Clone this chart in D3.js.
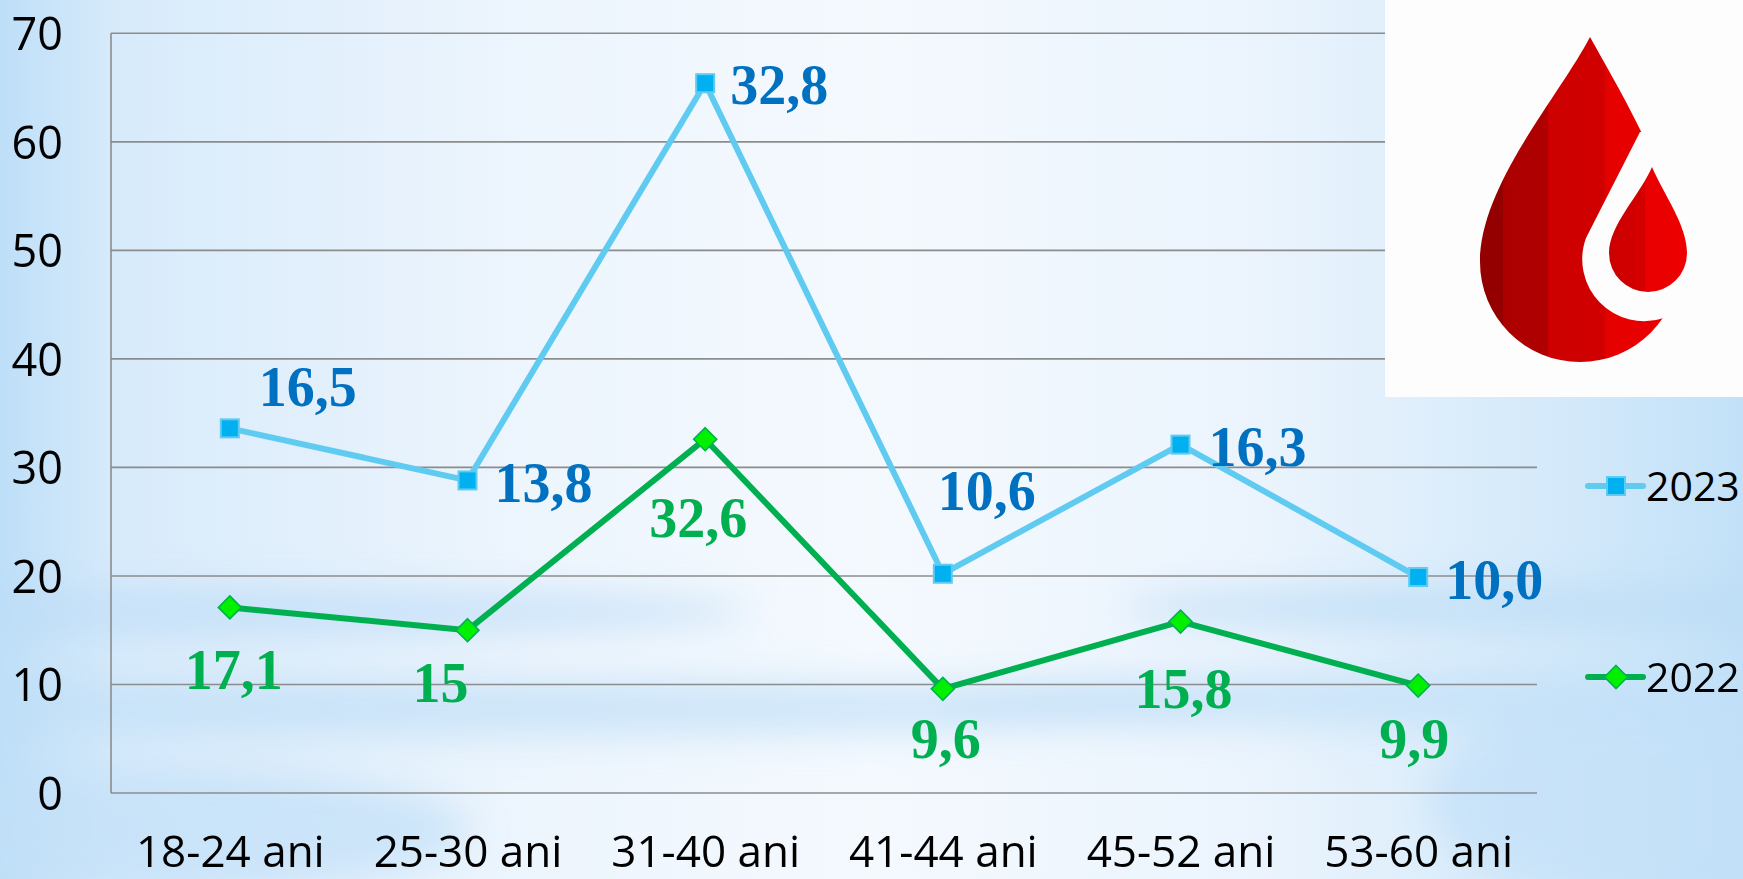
<!DOCTYPE html>
<html>
<head>
<meta charset="utf-8">
<script src="https://cdn.jsdelivr.net/npm/d3@7"></script>
<style>
  html, body { margin: 0; padding: 0; overflow: hidden; background: #eaf4fc; }
  svg { display: block; }
</style>
</head>
<body>
<svg id="chart" width="1743" height="879"></svg>
<script>
// ---------- data ----------
const categories = ["18-24 ani", "25-30 ani", "31-40 ani", "41-44 ani", "45-52 ani", "53-60 ani"];
const seriesNames = ["2022", "2023"];
const values2022 = [17.1, 15, 32.6, 9.6, 15.8, 9.9];
const values2023 = [16.5, 13.8, 32.8, 10.6, 16.3, 10.0];
const labels2022 = ["17,1", "15", "32,6", "9,6", "15,8", "9,9"];
const labels2023 = ["16,5", "13,8", "32,8", "10,6", "16,3", "10,0"];
const yTicks = [0, 10, 20, 30, 40, 50, 60, 70];

// ---------- style ----------
const W = 1743, H = 879;
const plot = { left: 111, right: 1537, top: 33.3, bottom: 793 };
const blueLine = "#5fcbf1", blueMarker = "#00b0f0", blueLabel = "#0070c0";
const greenLine = "#00b050", greenMarker = "#00f000", greenLabel = "#00b050";
const tickFont = "'Open Sans', sans-serif";
// label offsets relative to marker (dx, baseline dy)
const off2023 = [[29, -22], [27, 22], [25, 21], [-5, -64], [28, 21], [27, 22]];
const off2022 = [[4, 82], [-27, 72], [-7, 98], [3, 69], [3, 86], [-4, 72]];

const svg = d3.select("#chart");
const defs = svg.append("defs");

// ---------- background ----------
const bgH = defs.append("linearGradient").attr("id", "bgH").attr("x1", 0).attr("x2", 1).attr("y1", 0).attr("y2", 0);
[[0, "#bedff8"], [0.07, "#d8ebfb"], [0.3, "#edf5fd"], [0.5, "#f4f9fe"], [0.72, "#ebf4fd"], [0.9, "#d3e9fa"], [1, "#c2e1f8"]]
  .forEach(([o, c]) => bgH.append("stop").attr("offset", o).attr("stop-color", c));
svg.append("rect").attr("width", W).attr("height", H).attr("fill", "url(#bgH)");

const blur = defs.append("filter").attr("id", "blur").attr("x", "-20%").attr("y", "-50%").attr("width", "140%").attr("height", "200%");
blur.append("feGaussianBlur").attr("stdDeviation", 18);
const bands = svg.append("g").attr("filter", "url(#blur)");
bands.append("ellipse").attr("cx", 300).attr("cy", 612).attr("rx", 450).attr("ry", 22).attr("fill", "#bcdcf6").attr("opacity", 0.7);
bands.append("ellipse").attr("cx", 1500).attr("cy", 608).attr("rx", 380).attr("ry", 22).attr("fill", "#bcdcf6").attr("opacity", 0.75);
bands.append("ellipse").attr("cx", 500).attr("cy", 708).attr("rx", 720).attr("ry", 28).attr("fill", "#bfdef7").attr("opacity", 0.7);
bands.append("ellipse").attr("cx", 1400).attr("cy", 700).attr("rx", 470).attr("ry", 28).attr("fill", "#bfdef7").attr("opacity", 0.65);
bands.append("ellipse").attr("cx", 150).attr("cy", 830).attr("rx", 320).attr("ry", 60).attr("fill", "#c2e0f8").attr("opacity", 0.7);
bands.append("ellipse").attr("cx", 1650).attr("cy", 800).attr("rx", 220).attr("ry", 100).attr("fill", "#c2e0f8").attr("opacity", 0.7);

// ---------- scales ----------
const x = d3.scalePoint().domain(categories).range([plot.left, plot.right]).padding(0.5);
const y = d3.scaleLinear().domain([0, 70]).range([plot.bottom, plot.top]);

// stacked table (the chart is a stacked line chart)
const table = categories.map((c, i) => ({ cat: c, "2022": values2022[i], "2023": values2023[i] }));
const stacked = d3.stack().keys(seriesNames)(table);

// ---------- grid & axes ----------
const grid = svg.append("g");
grid.selectAll("line.g").data(yTicks).join("line")
  .attr("x1", plot.left).attr("x2", plot.right)
  .attr("y1", d => y(d)).attr("y2", d => y(d))
  .attr("stroke", "#8c8c8c").attr("stroke-width", 1.6);
grid.append("line").attr("x1", plot.left).attr("x2", plot.left).attr("y1", y(70)).attr("y2", y(0))
  .attr("stroke", "#8c8c8c").attr("stroke-width", 1.6);

const yAxis = svg.append("g").attr("transform", `translate(63,0)`)
  .call(d3.axisLeft(y).tickValues(yTicks).tickSize(0).tickPadding(0));
yAxis.select(".domain").remove();
yAxis.selectAll("text").attr("font-family", tickFont).attr("font-size", 45)
  .attr("fill", "#000").attr("dy", "0.36em");

const xAxis = svg.append("g").attr("transform", `translate(0,${plot.bottom})`)
  .call(d3.axisBottom(x).tickSize(0).tickPadding(0));
xAxis.select(".domain").remove();
xAxis.selectAll("text").attr("font-family", tickFont).attr("font-size", 44)
  .attr("fill", "#000").attr("dy", null).attr("y", 74);

// ---------- lines ----------
const line = d3.line().x((d, i) => x(categories[i])).y(d => y(d[1]));
const s2022 = stacked[0], s2023 = stacked[1];

svg.append("path").datum(s2023).attr("d", line).attr("fill", "none")
  .attr("stroke", blueLine).attr("stroke-width", 6).attr("stroke-linejoin", "round");
svg.append("path").datum(s2022).attr("d", line).attr("fill", "none")
  .attr("stroke", greenLine).attr("stroke-width", 6).attr("stroke-linejoin", "round");

// markers
const sq = 18, dm = 11.5;
svg.append("g").selectAll("rect").data(s2023).join("rect")
  .attr("x", (d, i) => x(categories[i]) - sq / 2).attr("y", d => y(d[1]) - sq / 2)
  .attr("width", sq).attr("height", sq)
  .attr("fill", blueMarker).attr("stroke", blueLine).attr("stroke-width", 2);
svg.append("g").selectAll("path").data(s2022).join("path")
  .attr("d", (d, i) => {
    const cx = x(categories[i]), cy = y(d[1]);
    return `M${cx},${cy - dm}L${cx + dm},${cy}L${cx},${cy + dm}L${cx - dm},${cy}Z`;
  })
  .attr("fill", greenMarker).attr("stroke", greenLine).attr("stroke-width", 1.6);

// data labels
const labelFont = "'Liberation Serif', 'Times New Roman', serif";
svg.append("g").selectAll("text").data(s2023).join("text")
  .attr("x", (d, i) => x(categories[i]) + off2023[i][0])
  .attr("y", (d, i) => y(d[1]) + off2023[i][1])
  .attr("font-family", labelFont).attr("font-weight", "bold").attr("font-size", 56)
  .attr("fill", blueLabel).text((d, i) => labels2023[i]);
svg.append("g").selectAll("text").data(s2022).join("text")
  .attr("x", (d, i) => x(categories[i]) + off2022[i][0])
  .attr("y", (d, i) => y(d[1]) + off2022[i][1])
  .attr("text-anchor", "middle")
  .attr("font-family", labelFont).attr("font-weight", "bold").attr("font-size", 56)
  .attr("fill", greenLabel).text((d, i) => labels2022[i]);

// ---------- legend ----------
const legendItems = [
  { name: "2023", y: 486, color: blueLine, type: "sq" },
  { name: "2022", y: 677, color: greenLine, type: "dm" }
];
const lg = svg.append("g").selectAll("g").data(legendItems).join("g")
  .attr("transform", d => `translate(0,${d.y})`);
lg.append("line").attr("x1", 1588).attr("x2", 1643).attr("y1", 0).attr("y2", 0)
  .attr("stroke", d => d.color).attr("stroke-width", 6).attr("stroke-linecap", "round");
lg.filter(d => d.type === "sq").append("rect").attr("x", 1616 - 9).attr("y", -9).attr("width", 18).attr("height", 18)
  .attr("fill", blueMarker).attr("stroke", blueLine).attr("stroke-width", 2);
lg.filter(d => d.type === "dm").append("path")
  .attr("d", `M1616,-11.5L1627.5,0L1616,11.5L1604.5,0Z`)
  .attr("fill", greenMarker).attr("stroke", greenLine).attr("stroke-width", 1.6);
lg.append("text").attr("x", 1646).attr("y", 15)
  .attr("font-family", tickFont).attr("font-size", 41).attr("fill", "#000")
  .text(d => d.name);

// ---------- logo ----------
const logo = svg.append("g");
logo.append("rect").attr("x", 1385).attr("y", 0).attr("width", W - 1385).attr("height", 397).attr("fill", "#fdfdfe");
const gBig = defs.append("linearGradient").attr("id", "gBig").attr("gradientUnits", "userSpaceOnUse")
  .attr("x1", 1478).attr("x2", 1690).attr("y1", 0).attr("y2", 0);
[[0, "#940000"], [0.12, "#940000"], [0.12, "#ac0000"], [0.33, "#b00000"], [0.33, "#cc0000"], [0.6, "#d20000"], [0.6, "#e50000"], [1, "#ec0000"]]
  .forEach(([o, c]) => gBig.append("stop").attr("offset", o).attr("stop-color", c));
const gSmall = defs.append("linearGradient").attr("id", "gSmall").attr("gradientUnits", "userSpaceOnUse")
  .attr("x1", 1610).attr("x2", 1688).attr("y1", 0).attr("y2", 0);
[[0, "#cc0000"], [0.45, "#d40000"], [0.45, "#e80000"], [1, "#ee0000"]]
  .forEach(([o, c]) => gSmall.append("stop").attr("offset", o).attr("stop-color", c));
const mask = defs.append("mask").attr("id", "cut");
mask.append("rect").attr("x", 1385).attr("y", 0).attr("width", 400).attr("height", 400).attr("fill", "#fff");
mask.append("path").attr("d", "M1640,132 L1760,132 L1760,400 L1664,318 A62 62 0 0 1 1586,238 Z").attr("fill", "#000");
logo.append("path")
  .attr("d", "M1590,37 C1560,95 1480,185 1480,262 A100 100 0 0 0 1680,262 C1680,190 1625,100 1590,37 Z")
  .attr("fill", "url(#gBig)").attr("mask", "url(#cut)");
logo.append("path")
  .attr("d", "M1652,167 C1640,195 1609,225 1609,253 A39 39 0 0 0 1687,253 C1687,225 1664,195 1652,167 Z")
  .attr("fill", "url(#gSmall)");
</script>
</body>
</html>
